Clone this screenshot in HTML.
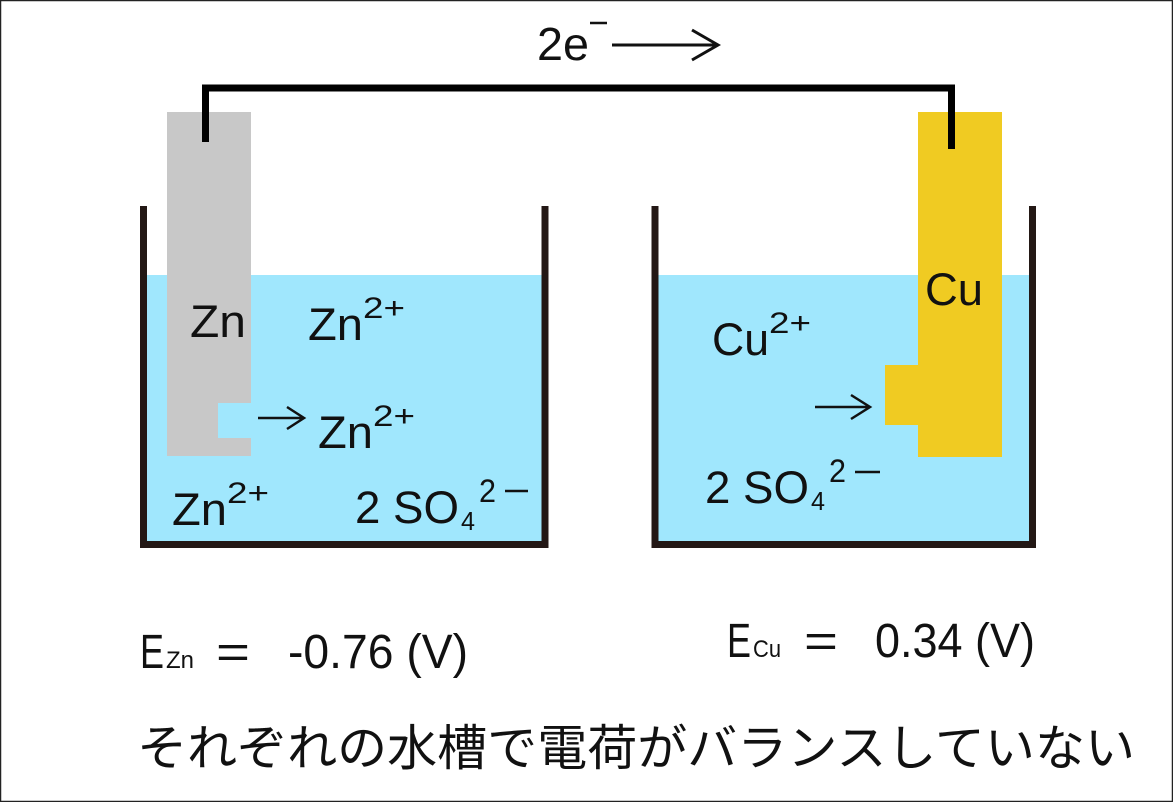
<!DOCTYPE html>
<html><head><meta charset="utf-8"><style>
html,body{margin:0;padding:0;background:#fff}
svg{display:block}
text{font-family:"Liberation Sans","Noto Sans CJK JP",sans-serif;fill:#111}
</style></head><body>
<svg width="1173" height="802" viewBox="0 0 1173 802" xmlns="http://www.w3.org/2000/svg">
<rect x="0.5" y="0.5" width="1172" height="801" fill="#fff" stroke="#222" stroke-width="1.5"/>
<rect x="147" y="275" width="395" height="267" fill="#a0e7fd"/>
<rect x="658" y="275" width="372" height="267" fill="#a0e7fd"/>
<path d="M143.5 206 V544.5 H545 V206" fill="none" stroke="#231815" stroke-width="7"/>
<path d="M655 206 V544.5 H1032.5 V206" fill="none" stroke="#231815" stroke-width="7"/>
<path d="M167 112 H251 V403 H218 V438 H251 V456 H167 Z" fill="#c8c8c8"/>
<path d="M918 112 H1002 V457 H918 V425 H885 V365 H918 Z" fill="#f0cb22"/>
<path d="M205.5 142 V88 H951.5 V149" fill="none" stroke="#000" stroke-width="7"/>
<text x="537" y="60" font-size="46" textLength="52" lengthAdjust="spacingAndGlyphs">2e</text>
<line x1="590" y1="23" x2="607" y2="23" stroke="#111" stroke-width="2.5"/>
<path d="M612 45 H718 M692 30 L718 45 L692 60" fill="none" stroke="#111" stroke-width="3"/>
<text x="190" y="337" font-size="45" textLength="56" lengthAdjust="spacingAndGlyphs">Zn</text>
<text x="308" y="340" font-size="45" textLength="55" lengthAdjust="spacingAndGlyphs">Zn</text>
<text x="363" y="318" font-size="30" textLength="42" lengthAdjust="spacingAndGlyphs">2+</text>
<path d="M258 418 H304 M287 407 L304 418 L287 429" fill="none" stroke="#111" stroke-width="2.5"/>
<text x="318" y="448" font-size="45" textLength="55" lengthAdjust="spacingAndGlyphs">Zn</text>
<text x="373" y="426" font-size="30" textLength="42" lengthAdjust="spacingAndGlyphs">2+</text>
<text x="172" y="525" font-size="45" textLength="55" lengthAdjust="spacingAndGlyphs">Zn</text>
<text x="227" y="503" font-size="30" textLength="42" lengthAdjust="spacingAndGlyphs">2+</text>
<text x="355" y="523" font-size="45" textLength="104" lengthAdjust="spacingAndGlyphs">2 SO</text>
<text x="461" y="530" font-size="26" textLength="14" lengthAdjust="spacingAndGlyphs">4</text>
<text x="479" y="502" font-size="32" textLength="17" lengthAdjust="spacingAndGlyphs">2</text>
<line x1="505" y1="491" x2="528" y2="491" stroke="#111" stroke-width="2.5"/>
<text x="925" y="305" font-size="45" textLength="58" lengthAdjust="spacingAndGlyphs">Cu</text>
<text x="712" y="355" font-size="45" textLength="57" lengthAdjust="spacingAndGlyphs">Cu</text>
<text x="769" y="333" font-size="30" textLength="42" lengthAdjust="spacingAndGlyphs">2+</text>
<path d="M815 407 H870 M851 395 L870 407 L851 419" fill="none" stroke="#111" stroke-width="2.5"/>
<text x="705" y="503" font-size="45" textLength="104" lengthAdjust="spacingAndGlyphs">2 SO</text>
<text x="811" y="510" font-size="26" textLength="14" lengthAdjust="spacingAndGlyphs">4</text>
<text x="829" y="482" font-size="32" textLength="17" lengthAdjust="spacingAndGlyphs">2</text>
<line x1="855" y1="472" x2="880" y2="472" stroke="#111" stroke-width="2.5"/>
<text x="140" y="668" font-size="48" textLength="24" lengthAdjust="spacingAndGlyphs">E</text>
<text x="166" y="668" font-size="24" textLength="28" lengthAdjust="spacingAndGlyphs">Zn</text>
<text x="216" y="668" font-size="46" textLength="34" lengthAdjust="spacingAndGlyphs">=</text>
<text x="288" y="668" font-size="48" textLength="180" lengthAdjust="spacingAndGlyphs">-0.76 (V)</text>
<text x="727" y="657" font-size="48" textLength="24" lengthAdjust="spacingAndGlyphs">E</text>
<text x="753" y="657" font-size="24" textLength="28" lengthAdjust="spacingAndGlyphs">Cu</text>
<text x="804" y="657" font-size="46" textLength="34" lengthAdjust="spacingAndGlyphs">=</text>
<text x="875" y="657" font-size="48" textLength="160" lengthAdjust="spacingAndGlyphs">0.34 (V)</text>
<text x="137" y="765" font-size="49" textLength="998" lengthAdjust="spacingAndGlyphs">それぞれの水槽で電荷がバランスしていない</text>
</svg>
</body></html>
